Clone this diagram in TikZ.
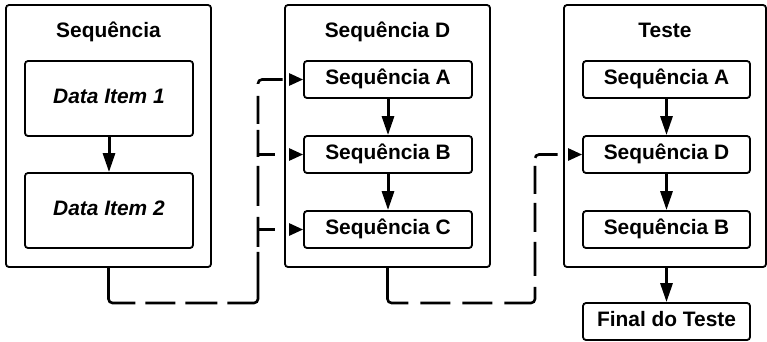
\documentclass[tikz,border=0pt]{standalone}
\usepackage{fontspec}
\setmainfont{Liberation Sans}
\usetikzlibrary{arrows.meta}
\begin{document}
\begin{tikzpicture}[x=1pt,y=-1pt,
  font=\bfseries\fontsize{20.9}{24}\selectfont,
  cont/.style={draw, line width=1.8pt, rounded corners=3pt, minimum width=205pt, minimum height=262pt, inner sep=0pt},
  box/.style={draw, line width=1.8pt, rounded corners=3pt, minimum width=168pt, minimum height=37pt, inner sep=0pt, text height=15pt, text depth=4.3pt},
  bigbox/.style={box, minimum height=75pt},
  title/.style={anchor=base, inner sep=0pt},
  solidarrow/.style={line width=3pt, -{Triangle[length=19pt,width=12pt]}},
  dasharrow/.style={line width=2.6pt, rounded corners=4pt, -{Triangle[length=14pt,width=12pt]}},
  pathone/.style={dasharrow, dash pattern=on 60pt off 10pt on 30pt off 10pt on 32pt off 10pt on 80pt off 5pt on 30pt off 11pt on 40pt off 9pt on 27pt off 6pt on 28pt off 12pt on 27pt off 40pt},
  pathtwo/.style={dasharrow, dash pattern=on 54pt off 12pt on 30pt off 12pt on 30pt off 12pt on 45pt off 11pt on 34pt off 10pt on 29pt off 9pt on 28pt off 8pt on 24pt off 40pt},
  branch/.style={dasharrow, dash pattern=on 17pt off 40pt}
]
\useasboundingbox (0,0) rectangle (767,341);

% containers
\node[cont] (c1) at (108.5,136) {};
\node[cont] (c2) at (387.5,136) {};
\node[cont, minimum width=202pt] (c3) at (665,136) {};

\node[title] (t1) at (108.5,37) {Sequência};
\node[title] (t2) at (387.5,37) {Sequência D};
\node[title] (t3) at (665,37) {Teste};

% container 1
\node[bigbox] (i1) at (109,98.5) {\itshape Data Item 1};
\node[bigbox] (i2) at (109,210.5) {\itshape Data Item 2};
\draw[solidarrow] (i1) -- (i2);

% container 2
\node[box] (a2) at (388,79.5) {Sequência A};
\node[box] (b2) at (388,154.5) {Sequência B};
\node[box] (cc2) at (388,229.5) {Sequência C};
\draw[solidarrow] (a2) -- (b2);
\draw[solidarrow] (b2) -- (cc2);

% container 3
\node[box, minimum width=167pt] (a3) at (666.5,79.5) {Sequência A};
\node[box, minimum width=167pt] (d3) at (666.5,154.5) {Sequência D};
\node[box, minimum width=167pt] (b3) at (666.5,229.5) {Sequência B};
\draw[solidarrow] (a3) -- (d3);
\draw[solidarrow] (d3) -- (b3);

\node[box, minimum width=167pt] (fin) at (666.5,321.5) {Final do Teste};
\draw[solidarrow] (fin.north |- c3.south) -- (fin.north);

% dashed connectors
\coordinate (k1) at (258,303);
\coordinate (k2) at (535,303);
\draw[pathone] (c1.south) |- (k1) |- (a2.west);
\draw[branch] (k1 |- b2.west) -- (b2.west);
\draw[branch] (k1 |- cc2.west) -- (cc2.west);
\draw[pathtwo] (c2.south) |- (k2) |- (d3.west);
\end{tikzpicture}
\end{document}
